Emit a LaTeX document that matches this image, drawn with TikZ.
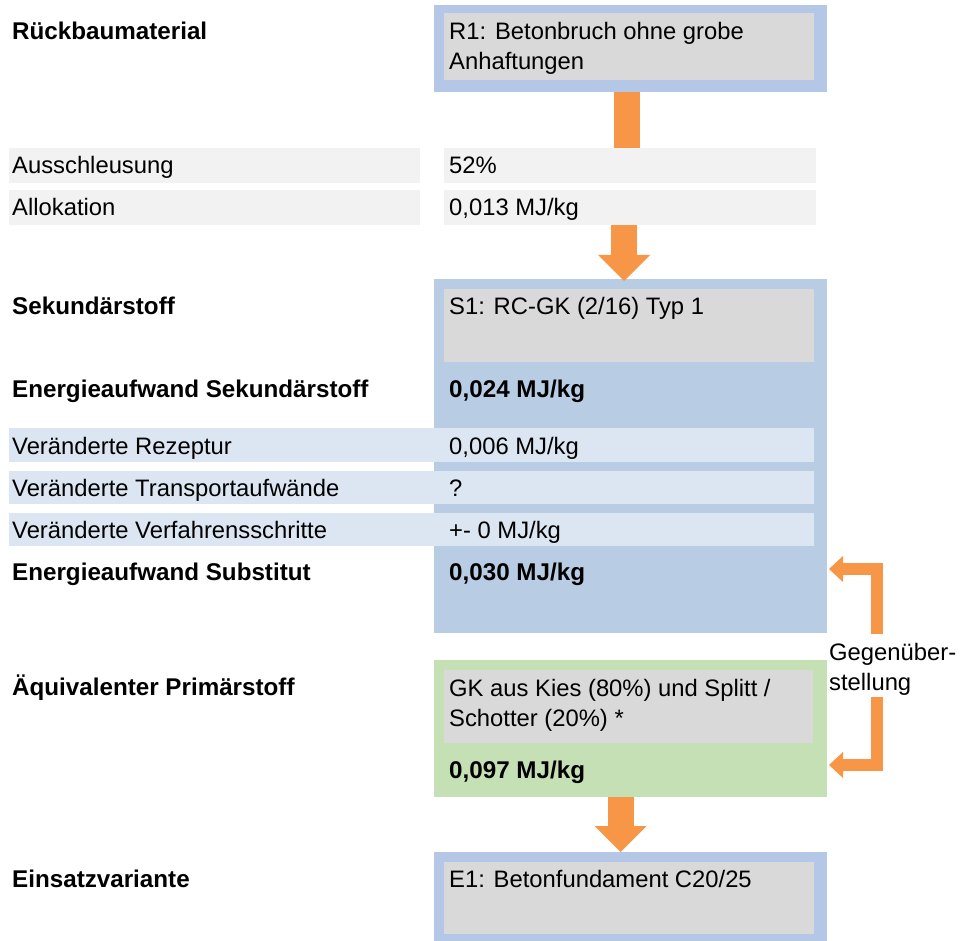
\documentclass[tikz,border=0pt]{standalone}
\usepackage{fontspec}
\setmainfont{Liberation Sans}
\usepackage{xcolor}
\definecolor{rbframe}{RGB}{180,199,231}
\definecolor{rbpanel}{RGB}{184,204,228}
\definecolor{rbgreen}{RGB}{197,224,180}
\definecolor{rbgray}{RGB}{217,217,217}
\definecolor{rblight}{RGB}{242,242,242}
\definecolor{rbrow}{RGB}{220,230,242}
\definecolor{rborange}{RGB}{247,150,70}
\usetikzlibrary{arrows.meta, positioning, calc}

\tikzset{
  box/.style={rectangle, draw=none, inner sep=0pt, outer sep=0pt},
  txt/.style={anchor=base west, inner sep=0pt, font=\fontsize{23.8}{30}\selectfont},
  hd/.style={txt, font=\fontsize{24.2}{30}\selectfont\bfseries},
  flowshaft/.style={rborange, line width=26pt},
  flowarrow/.style={rborange, line width=26pt, -{Triangle[width=52pt, length=26pt, line width=0pt]}},
  cmparrow/.style={rborange, line width=12pt, line join=miter, -{Triangle[width=26pt, length=14pt, line width=0pt]}}
}

\begin{document}
\begin{tikzpicture}[x=1pt, y=-1pt]
  \useasboundingbox (0,0) rectangle (966,941);

  % --- Rueckbaumaterial ---
  \node[box, fill=rbframe, minimum width=393pt, minimum height=87pt] (r1) at (630.5,48.5) {};
  \node[box, fill=rbgray, minimum width=370pt, minimum height=67pt] (r1in) at (629,46.5) {};
  \node[hd] (r1lbl) at (12,39.5) {Rückbaumaterial};
  \node[txt, align=left] (r1txt) at (449,69.5) {R1: Betonbruch ohne grobe\\Anhaftungen};

  % Ausschleusung / Allokation
  \node[box, fill=rblight, minimum width=411pt, minimum height=35pt] (ausL) at (214.5,165.5) {};
  \node[box, fill=rblight, minimum width=372pt, minimum height=35pt] (ausR) at (630,165.5) {};
  \node[box, fill=rblight, minimum width=411pt, minimum height=35pt] (allL) at (214.5,207.5) {};
  \node[box, fill=rblight, minimum width=372pt, minimum height=35pt] (allR) at (630,207.5) {};
  \node[txt] (auslbl) at (12,173.3) {Ausschleusung};
  \node[txt] (ausval) at (449,173.3) {52\%};
  \node[txt] (alllbl) at (12,215.5) {Allokation};
  \node[txt] (allval) at (449,215.5) {0,013 MJ/kg};

  % --- Sekundaerstoff panel ---
  \node[box, fill=rbpanel, minimum width=393pt, minimum height=354pt] (s1) at (630.5,456) {};
  \node[box, fill=rbgray, minimum width=370pt, minimum height=73pt] (s1in) at (629,325.5) {};
  \node[hd] (s1lbl) at (12,314.5) {Sekundärstoff};
  \node[txt] (s1txt) at (449,314.5) {S1: RC-GK (2/16) Typ 1};
  \node[hd] (eslbl) at (12,397.7) {Energieaufwand Sekundärstoff};
  \node[hd] (esval) at (449,397.7) {0,024 MJ/kg};
  % changed steps
  \node[box, fill=rbrow, minimum width=805pt, minimum height=34pt] (rez) at (411.5,445) {};
  \node[box, fill=rbrow, minimum width=805pt, minimum height=33pt] (tra) at (411.5,487.5) {};
  \node[box, fill=rbrow, minimum width=805pt, minimum height=33pt] (ver) at (411.5,529.5) {};
  \node[txt] (rezlbl) at (12,454.5) {Veränderte Rezeptur};
  \node[txt] (rezval) at (449,454.5) {0,006 MJ/kg};
  \node[txt] (tralbl) at (12,496.5) {Veränderte Transportaufwände};
  \node[txt] (traval) at (449,496.5) {?};
  \node[txt] (verlbl) at (12,538.3) {Veränderte Verfahrensschritte};
  \node[txt] (verval) at (449,538.3) {+- 0 MJ/kg};
  \node[hd] (sublbl) at (12,580.7) {Energieaufwand Substitut};
  \node[hd] (subval) at (449,580.7) {0,030 MJ/kg};

  % --- Primaerstoff panel ---
  \node[box, fill=rbgreen, minimum width=393pt, minimum height=137pt] (pri) at (630.5,728.5) {};
  \node[box, fill=rbgray, minimum width=369pt, minimum height=73pt] (priin) at (628.5,706.5) {};
  \node[hd] (prilbl) at (12,695.7) {Äquivalenter Primärstoff};
  \node[txt, align=left] (pritxt) at (449,726.7) {GK aus Kies (80\%) und Splitt /\\Schotter (20\%) *};
  \node[hd] (prival) at (449,778.3) {0,097 MJ/kg};

  % --- Einsatzvariante ---
  \node[box, fill=rbframe, minimum width=393pt, minimum height=89pt] (e1) at (630.5,896.5) {};
  \node[box, fill=rbgray, minimum width=370pt, minimum height=72pt] (e1in) at (629,898) {};
  \node[hd] (e1lbl) at (12,887.7) {Einsatzvariante};
  \node[txt] (e1txt) at (449,887.7) {E1: Betonfundament C20/25};

  % Flow arrows
  \draw[flowshaft] ($(r1.south)+(-3.5,0)$) -- ($(r1.south |- ausR.north)+(-3.5,0)$);
  \draw[flowarrow] ($(allR.south)+(-6,0)$) -- ($(s1.north)+(-6.5,2)$);
  \draw[flowarrow] ($(pri.south)+(-10,0)$) -- ($(e1.north)+(-10,0)$);

  % Gegenueberstellung
  \node[txt, align=left] (cmp) at (829,690) {Gegenüber-\\stellung};
  \coordinate (cmpTop) at (877,634);
  \coordinate (cmpBot) at (877,697);
  \coordinate (subTip) at (829,569);
  \coordinate (priTip) at (829,765);
  \draw[cmparrow] (cmpTop) |- (subTip);
  \draw[cmparrow] (cmpBot) |- (priTip);
\end{tikzpicture}
\end{document}
